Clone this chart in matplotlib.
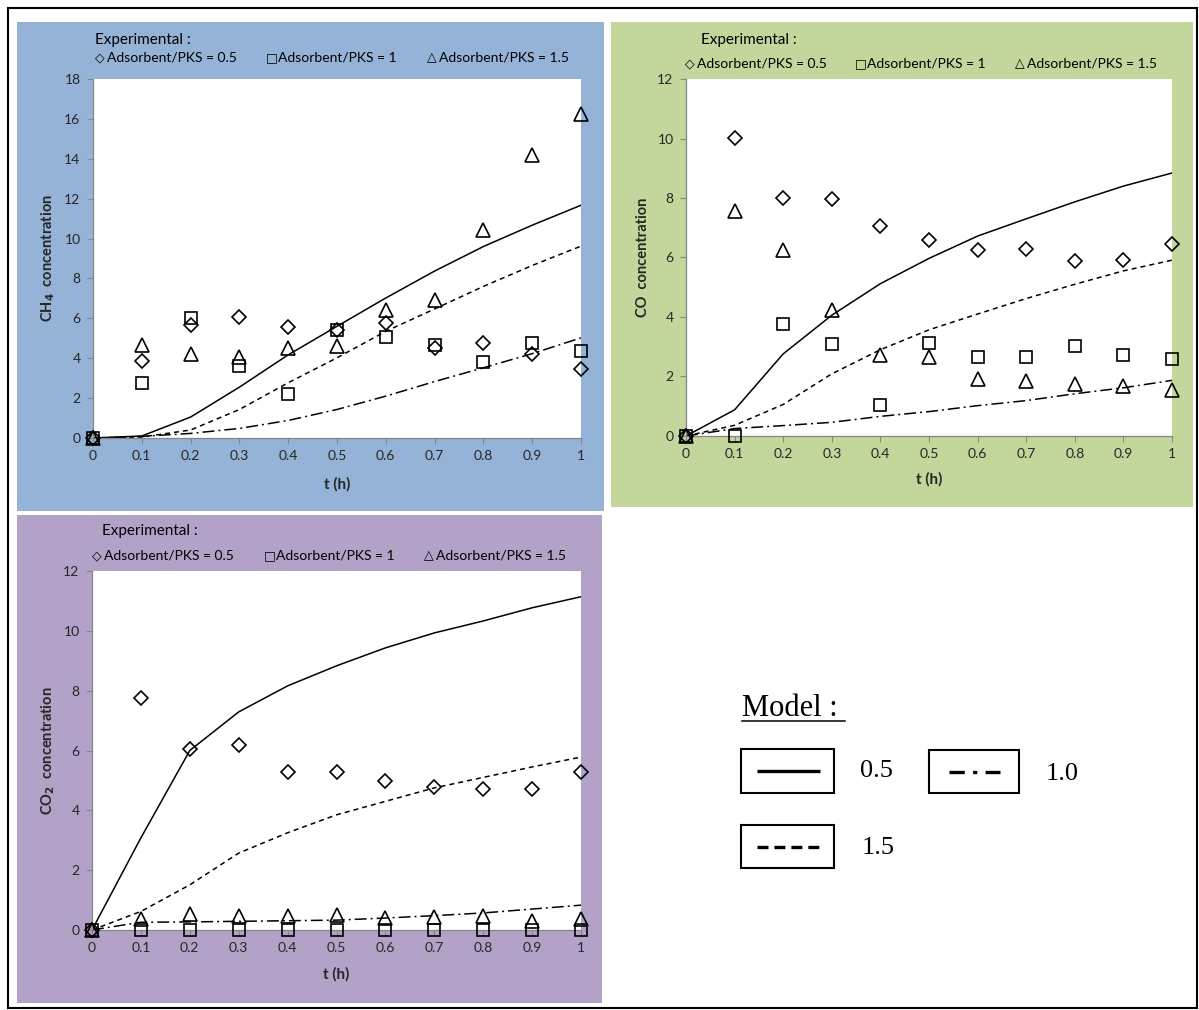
import matplotlib
matplotlib.use("Agg")
import matplotlib.pyplot as plt
from matplotlib.patches import Rectangle
from matplotlib.lines import Line2D

plt.rcParams["lines.scale_dashes"] = False

# ---------------- data ----------------
t = [0.0, 0.1, 0.2, 0.3, 0.4, 0.5, 0.6, 0.7, 0.8, 0.9, 1.0]

# CH4 - experimental
ch4_exp_05 = [0, 3.87, 5.65, 6.05, 5.55, 5.43, 5.77, 4.52, 4.75, 4.20, 3.47]
ch4_exp_10 = [0, 2.77, 6.02, 3.63, 2.23, 5.43, 5.07, 4.67, 3.83, 4.77, 4.35]
ch4_exp_15 = [0, 4.68, 4.20, 4.07, 4.50, 4.60, 6.43, 6.90, 10.42, 14.20, 16.24]
# CH4 - model
ch4_mod_05 = [0, 0.10, 1.05, 2.55, 4.17, 5.60, 7.02, 8.37, 9.60, 10.67, 11.67]
ch4_mod_10 = [0, 0.08, 0.23, 0.48, 0.88, 1.43, 2.10, 2.83, 3.52, 4.23, 5.02]
ch4_mod_15 = [0, 0.05, 0.40, 1.43, 2.77, 4.02, 5.35, 6.47, 7.60, 8.65, 9.62]

# CO - experimental
co_exp_05 = [0, 10.03, 8.00, 7.97, 7.05, 6.60, 6.24, 6.27, 5.87, 5.92, 6.45]
co_exp_10 = [0, 0.00, 3.75, 3.08, 1.03, 3.13, 2.65, 2.65, 3.03, 2.71, 2.60]
co_exp_15 = [0, 7.55, 6.25, 4.22, 2.73, 2.65, 1.90, 1.84, 1.74, 1.67, 1.53]
# CO - model
co_mod_05 = [0, 0.88, 2.76, 4.06, 5.12, 5.97, 6.72, 7.30, 7.87, 8.40, 8.84]
co_mod_10 = [0, 0.25, 0.35, 0.46, 0.66, 0.82, 1.02, 1.19, 1.42, 1.62, 1.87]
co_mod_15 = [0, 0.36, 1.06, 2.09, 2.90, 3.57, 4.10, 4.62, 5.10, 5.55, 5.91]

# CO2 - experimental
co2_exp_05 = [0, 7.76, 6.05, 6.19, 5.28, 5.28, 4.97, 4.77, 4.72, 4.72, 5.28]
co2_exp_10 = [0, 0, 0, 0, 0, 0, 0, 0, 0, 0, 0]
co2_exp_15 = [0, 0.37, 0.53, 0.46, 0.46, 0.49, 0.39, 0.44, 0.46, 0.31, 0.36]
# CO2 - model
co2_mod_05 = [0, 3.08, 6.00, 7.29, 8.16, 8.83, 9.43, 9.93, 10.33, 10.77, 11.14]
co2_mod_10 = [0, 0.26, 0.27, 0.29, 0.31, 0.33, 0.40, 0.48, 0.57, 0.70, 0.83]
co2_mod_15 = [0, 0.62, 1.51, 2.57, 3.25, 3.85, 4.30, 4.75, 5.10, 5.45, 5.78]

exp_symbols = ["\u25c7", "\u25a1", "\u25b3"]
exp_labels = ["Adsorbent/PKS = 0.5", "Adsorbent/PKS = 1", "Adsorbent/PKS = 1.5"]
model_labels = ["0.5", "1.0", "1.5"]
x_ticks = [0, 0.1, 0.2, 0.3, 0.4, 0.5, 0.6, 0.7, 0.8, 0.9, 1]

# ---------------- figure ----------------
W, H = 1199, 1010
fig = plt.figure(figsize=(W / 100, H / 100), dpi=100)
fig.patch.set_facecolor("white")

SANS = ["Lato", "DejaVu Sans"]
SERIF = ["Liberation Serif", "DejaVu Serif"]
AXIS_GREY = "#868686"
TEXT_DARK = "#262626"

DASHED = (0, (3.6, 2.9))
DASHDOT = (0, (8.6, 2.9, 1.4, 2.9))


def fx(x):
    return x / W


def fy(y):
    return 1 - y / H


def rect_px(x0, y0, x1, y1):
    return [fx(x0), fy(y1), (x1 - x0) / W, (y1 - y0) / H]


def panel_bg(x0, y0, x1, y1, color):
    fig.patches.append(Rectangle((fx(x0), fy(y1)), (x1 - x0) / W, (y1 - y0) / H,
                                 transform=fig.transFigure, facecolor=color,
                                 edgecolor="none", zorder=-5))


def make_panel(box, ymax, ylabel, models, exps, ylab_x, xlab_y):
    ax = fig.add_axes(rect_px(*box))
    ax.set_zorder(1)
    ax.set_facecolor("white")
    ax.set_xlim(0, 1)
    ax.set_ylim(0, ymax)
    m05, m10, m15 = models
    ax.plot(t, m05, color="black", lw=1.1, ls="-", zorder=2)
    ax.plot(t, m15, color="black", lw=1.1, ls=DASHED, zorder=2)
    ax.plot(t, m10, color="black", lw=1.1, ls=DASHDOT, zorder=2)
    e05, e10, e15 = exps
    mk = dict(ls="none", mfc="none", mec="black", mew=1.2, clip_on=False, zorder=3)
    ax.plot(t, e05, marker="D", ms=7, **mk)
    ax.plot(t, e10, marker="s", ms=9, **mk)
    ax.plot(t, e15, marker="^", ms=10, **mk)

    ax.set_xticks(x_ticks)
    ax.set_xticklabels([f"{v:g}" for v in x_ticks])
    ax.set_yticks(range(0, ymax + 1, 2))
    for s in ("top", "right"):
        ax.spines[s].set_visible(False)
    for s in ("left", "bottom"):
        ax.spines[s].set_color(AXIS_GREY)
        ax.spines[s].set_linewidth(0.9)
    ax.tick_params(direction="out", length=4, width=0.8, color=AXIS_GREY,
                   labelcolor=TEXT_DARK, labelsize=10, pad=5)
    for lab in ax.get_xticklabels() + ax.get_yticklabels():
        lab.set_family(SANS)
    ax.set_xlabel("t (h)", fontsize=11, fontweight="bold", family=SANS,
                  color=TEXT_DARK, va="center")
    ax.xaxis.set_label_coords(0.5, xlab_y)
    ax.set_ylabel(ylabel, fontsize=10.5, fontweight="bold", family=SANS,
                  color=TEXT_DARK, va="center")
    ax.yaxis.set_label_coords(ylab_x, 0.5)
    return ax


def exp_legend(x_title, y_title, xs, y_row):
    fig.text(fx(x_title), fy(y_title), "Experimental :", fontsize=11, family=SANS,
             color="black", ha="left", va="center")
    for x, sym, lab in zip(xs, exp_symbols, exp_labels):
        fig.text(fx(x), fy(y_row), sym, fontsize=9, family=["DejaVu Sans"],
                 color="black", ha="left", va="center")
        fig.text(fx(x + 12), fy(y_row), lab, fontsize=10, family=SANS,
                 color="black", ha="left", va="center")


# panel backgrounds
panel_bg(17, 22, 604, 511, "#95B3D7")
panel_bg(611, 22, 1193, 507, "#C3D69B")
panel_bg(17, 515, 602, 1003, "#B2A2C7")

# CH4
make_panel((93, 79, 581, 438), 18, r"CH$_\mathbf{4}$  concentration",
           (ch4_mod_05, ch4_mod_10, ch4_mod_15),
           (ch4_exp_05, ch4_exp_10, ch4_exp_15),
           ylab_x=-45 / 488, xlab_y=-46 / 359)
exp_legend(95, 40, [95, 266, 427], 58)

# CO
make_panel((686, 79, 1172, 436), 12, "CO  concentration",
           (co_mod_05, co_mod_10, co_mod_15),
           (co_exp_05, co_exp_10, co_exp_15),
           ylab_x=-43 / 486, xlab_y=-43 / 357)
exp_legend(701, 40, [685, 855, 1015], 64)

# CO2
make_panel((92, 571, 581, 930), 12, r"CO$_\mathbf{2}$  concentration",
           (co2_mod_05, co2_mod_10, co2_mod_15),
           (co2_exp_05, co2_exp_10, co2_exp_15),
           ylab_x=-44 / 489, xlab_y=-44 / 359)
exp_legend(102, 531, [92, 264, 424], 556)

# ---------------- model legend ----------------
fig.text(fx(742), fy(708), "Model :", fontsize=22, family=SERIF,
         color="black", ha="left", va="center")
fig.lines.append(Line2D([fx(742), fx(845)], [fy(721), fy(721)],
                        transform=fig.transFigure, color="black", lw=1.1))


def model_box(x0, y0, x1, y1, ls, lx0, lx1, label, tx, ty_off):
    fig.patches.append(Rectangle((fx(x0), fy(y1)), (x1 - x0) / W, (y1 - y0) / H,
                                 transform=fig.transFigure, facecolor="white",
                                 edgecolor="black", lw=1.5, zorder=2))
    yc = (y0 + y1) / 2
    fig.lines.append(Line2D([fx(lx0), fx(lx1)], [fy(yc), fy(yc)],
                            transform=fig.transFigure, color="black",
                            lw=2.4, ls=ls, solid_capstyle="butt",
                            dash_capstyle="butt", zorder=3))
    fig.text(fx(tx), fy(yc + ty_off), label, fontsize=19, family=SERIF,
             color="black", ha="left", va="center")


model_box(741, 749, 834, 793, "-", 757, 820, model_labels[0], 860, 0)
model_box(929, 750, 1019, 793, (0, (11, 6, 3, 6)), 949, 1000, model_labels[1], 1046, 3)
model_box(741, 825, 834, 868, (0, (7.9, 4.3)), 757, 819, model_labels[2], 862, 1)

# outer frame
fig.patches.append(Rectangle((fx(8), fy(1008)), (1197 - 8) / W, (1008 - 8) / H,
                             transform=fig.transFigure, facecolor="none",
                             edgecolor="black", lw=1.5, zorder=5))

fig.savefig("out.png", dpi=100)
